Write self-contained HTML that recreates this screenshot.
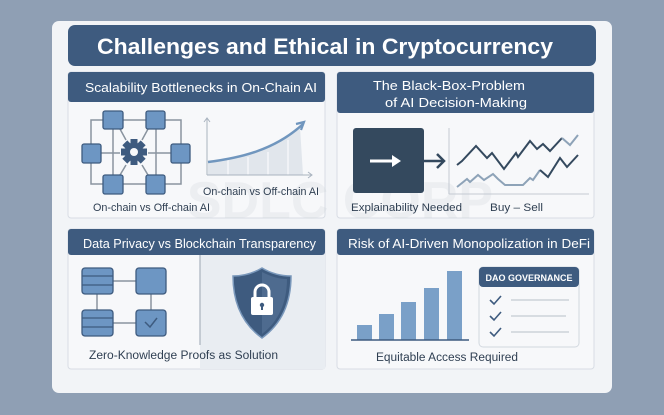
<!DOCTYPE html>
<html><head><meta charset="utf-8"><style>
html,body{margin:0;padding:0;background:#8f9fb4;}
svg{display:block;font-family:"Liberation Sans",sans-serif;}
</style></head><body>
<svg width="664" height="415" viewBox="0 0 664 415" xmlns="http://www.w3.org/2000/svg">
<rect width="664" height="415" fill="#8f9fb4"/>
<rect x="52" y="21" width="560" height="372" rx="7" fill="#f2f4f7"/>
<!-- title -->
<rect x="68" y="25" width="528" height="41" rx="7" fill="#3e5b7f"/>
<text x="97" y="54" font-size="22" font-weight="bold" fill="#fff" textLength="456" lengthAdjust="spacingAndGlyphs">Challenges and Ethical in Cryptocurrency</text>

<!-- panels -->
<g stroke="#d8dde4" stroke-width="1">
<rect x="68" y="72" width="257" height="146" rx="3" fill="#f7f8fa"/>
<rect x="337" y="72" width="257" height="146" rx="3" fill="#f7f8fa"/>
<rect x="68" y="229" width="257" height="140" rx="3" fill="#f7f8fa"/>
<rect x="337" y="229" width="257" height="140" rx="3" fill="#f7f8fa"/>
</g>
<rect x="68" y="72" width="257" height="30" rx="3" fill="#3e5b7f"/>
<rect x="337" y="72" width="257" height="41" rx="3" fill="#3e5b7f"/>
<rect x="68" y="229" width="257" height="26" rx="3" fill="#3e5b7f"/>
<rect x="337" y="229" width="257" height="26" rx="3" fill="#3e5b7f"/>
<g fill="#fff" font-size="13" lengthAdjust="spacingAndGlyphs">
<text x="85" y="92" textLength="232" lengthAdjust="spacingAndGlyphs">Scalability Bottlenecks in On-Chain AI</text>
<text x="373" y="90" textLength="152" lengthAdjust="spacingAndGlyphs">The Black-Box-Problem</text>
<text x="385" y="107" textLength="142" lengthAdjust="spacingAndGlyphs">of AI Decision-Making</text>
<text x="83" y="248" textLength="233" lengthAdjust="spacingAndGlyphs">Data Privacy vs Blockchain Transparency</text>
<text x="348" y="248" textLength="242" lengthAdjust="spacingAndGlyphs">Risk of AI-Driven Monopolization in DeFi</text>
</g>

<!-- watermark -->
<text x="340" y="218" text-anchor="middle" font-size="52" font-weight="bold" fill="#c9ced6" opacity="0.22">SDLC CORP</text>

<!-- TL network -->
<g stroke="#8a949f" stroke-width="1.5" fill="none">
<rect x="91" y="120" width="90" height="64"/>
<line x1="113" y1="120" x2="113" y2="184"/><line x1="156" y1="120" x2="156" y2="184"/>
<line x1="91" y1="153" x2="120" y2="153"/><line x1="148" y1="153" x2="181" y2="153"/>
<line x1="120" y1="129" x2="126" y2="140"/><line x1="148" y1="129" x2="142" y2="140"/>
<line x1="120" y1="175" x2="126" y2="165"/><line x1="148" y1="175" x2="142" y2="165"/>
</g>
<g fill="#6d96c3" stroke="#3e5b7f" stroke-width="1.3">
<rect x="103" y="111" width="20" height="18" rx="2"/><rect x="146" y="111" width="19" height="18" rx="2"/>
<rect x="82" y="144" width="19" height="19" rx="2"/><rect x="171" y="144" width="19" height="19" rx="2"/>
<rect x="103" y="175" width="20" height="19" rx="2"/><rect x="146" y="175" width="19" height="19" rx="2"/>
</g>
<g transform="translate(134,152)" fill="#3e5b7f">
<circle r="9.5"/>
<g><rect x="-3.5" y="-13" width="7" height="26"/><rect x="-13" y="-3.5" width="26" height="7"/>
<rect x="-3.5" y="-13" width="7" height="26" transform="rotate(45)"/><rect x="-3.5" y="-13" width="7" height="26" transform="rotate(-45)"/></g>
<circle r="4" fill="#f7f8fa"/>
</g>
<!-- TL chart -->
<path d="M208,162 C240,158 275,150 300,127 L303,175 L208,175 Z" fill="#e1e6ec"/>
<g stroke="#fff" stroke-width="1"><line x1="228" y1="160" x2="228" y2="175"/><line x1="248" y1="157" x2="248" y2="175"/><line x1="268" y1="152" x2="268" y2="175"/><line x1="288" y1="140" x2="288" y2="175"/></g>
<g stroke="#a9b3bf" stroke-width="1" fill="none">
<line x1="207" y1="118" x2="207" y2="175"/><line x1="207" y1="175" x2="312" y2="175"/>
<path d="M204,122 L207,118 L210,122"/><path d="M308,172 L312,175 L308,178"/>
</g>
<path d="M208,162 C240,158 275,150 303,124" stroke="#7096be" stroke-width="2.5" fill="none"/>
<path d="M296,124 L304,122 L301,130" stroke="#7096be" stroke-width="2.2" fill="none"/>
<g fill="#2f3f52" font-size="11">
<text x="203" y="195" textLength="116" lengthAdjust="spacingAndGlyphs">On-chain vs Off-chain AI</text>
<text x="93" y="211" textLength="117" lengthAdjust="spacingAndGlyphs">On-chain vs Off-chain AI</text>
</g>

<!-- TR -->
<rect x="353" y="128" width="71" height="65" rx="3" fill="#34495e"/>
<line x1="370" y1="161" x2="398" y2="161" stroke="#fff" stroke-width="3"/>
<path d="M392,155 L401,161 L392,167 Z" fill="#fff"/>
<line x1="424" y1="161" x2="444" y2="161" stroke="#34495e" stroke-width="2.5"/>
<path d="M437,154 L444,161 L437,168" stroke="#34495e" stroke-width="2.5" fill="none"/>
<g stroke="#c4cad2" stroke-width="1"><line x1="449" y1="128" x2="449" y2="194"/><line x1="449" y1="194" x2="589" y2="194"/></g>
<polyline points="457,187 467,179 470,182 478,175 484,180 493,174 498,179 505,185 523,185 530,178 533,180 540,170" stroke="#8ea3b8" stroke-width="2" fill="none"/>
<polyline points="540,170 548,177 560,158 567,167 578,155" stroke="#34495e" stroke-width="2" fill="none"/>
<polyline points="457,165 462,161 476,146 487,158 492,153 504,169 516,153 518,157 530,141 537,149 543,144 550,151 562,138" stroke="#34495e" stroke-width="2" fill="none"/>
<polyline points="562,138 570,145 578,135" stroke="#8ea3b8" stroke-width="2" fill="none"/>
<g fill="#2f3f52" font-size="11">
<text x="351" y="211" textLength="111" lengthAdjust="spacingAndGlyphs">Explainability Needed</text>
<text x="490" y="211" textLength="53" lengthAdjust="spacingAndGlyphs">Buy – Sell</text>
</g>

<!-- BL -->
<rect x="200" y="255" width="125" height="114" fill="#e9edf2"/>
<line x1="200" y1="255" x2="200" y2="345" stroke="#aab3be" stroke-width="1.2"/>
<g stroke="#8a949f" stroke-width="1.5"><line x1="113" y1="281" x2="136" y2="281"/><line x1="113" y1="323" x2="136" y2="323"/><line x1="97" y1="294" x2="97" y2="310"/><line x1="151" y1="294" x2="151" y2="310"/></g>
<g fill="#6d96c3" stroke="#3e5b7f" stroke-width="1.3">
<rect x="82" y="268" width="31" height="26" rx="3"/><rect x="136" y="268" width="30" height="26" rx="3"/>
<rect x="82" y="310" width="31" height="26" rx="3"/><rect x="136" y="310" width="30" height="26" rx="3"/>
</g>
<g stroke="#3e5b7f" stroke-width="1.2"><line x1="82" y1="276" x2="113" y2="276"/><line x1="82" y1="285" x2="113" y2="285"/><line x1="82" y1="318" x2="113" y2="318"/><line x1="82" y1="327" x2="113" y2="327"/></g>
<path d="M145,322 L150,327 L157,318" stroke="#3e5b7f" stroke-width="1.5" fill="none"/>
<path d="M262,268 C252,274 242,276 233,276 C233,305 244,325 262,338 C280,325 291,305 291,276 C282,276 272,274 262,268 Z" fill="#3e5b7f" stroke="#7a98bb" stroke-width="1.5"/>
<path d="M262,272 L262,334 C278,322 287,303 287,279 C278,279 270,276 262,272Z" fill="#4e6b8f"/>
<rect x="251" y="297" width="22" height="18" rx="2" fill="#fff"/>
<path d="M255,297 v-5 a7,7 0 0 1 14,0 v5" stroke="#fff" stroke-width="3" fill="none"/>
<circle cx="262" cy="305" r="2.2" fill="#3e5b7f"/><rect x="261" y="305" width="2" height="5" fill="#3e5b7f"/>
<text x="89" y="359" font-size="11.5" fill="#2f3f52" textLength="189" lengthAdjust="spacingAndGlyphs">Zero-Knowledge Proofs as Solution</text>

<!-- BR -->
<g fill="#7aa0c8">
<rect x="357" y="325" width="15" height="15"/><rect x="379" y="314" width="15" height="26"/>
<rect x="401" y="302" width="15" height="38"/><rect x="424" y="288" width="15" height="52"/>
<rect x="447" y="271" width="15" height="69"/>
</g>
<line x1="351" y1="340" x2="469" y2="340" stroke="#3e5b7f" stroke-width="1.5"/>
<rect x="479" y="267" width="100" height="80" rx="4" fill="#f7f8fa" stroke="#d2d8df"/>
<rect x="479" y="267" width="100" height="20" rx="4" fill="#3e5b7f"/>
<text x="529" y="281" text-anchor="middle" font-size="9" font-weight="bold" fill="#fff">DAO GOVERNANCE</text>
<g stroke="#3e5b7f" stroke-width="1.6" fill="none">
<path d="M490,300 l4,4 l7,-8"/><path d="M490,316 l4,4 l7,-8"/><path d="M490,332 l4,4 l7,-8"/>
</g>
<g stroke="#c4cad2" stroke-width="1.2"><line x1="511" y1="300" x2="569" y2="300"/><line x1="511" y1="316" x2="566" y2="316"/><line x1="511" y1="332" x2="569" y2="332"/></g>
<text x="376" y="361" font-size="11.5" fill="#2f3f52" textLength="142" lengthAdjust="spacingAndGlyphs">Equitable Access Required</text>
</svg>
</body></html>
